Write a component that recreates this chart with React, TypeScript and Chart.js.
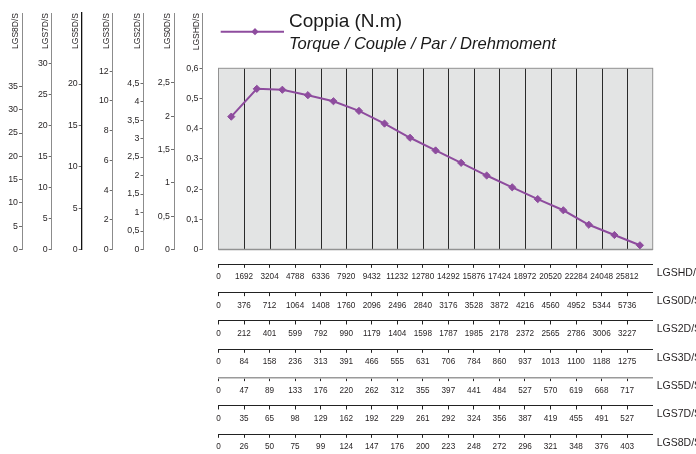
import React, { useEffect, useRef } from 'react';
import { Chart, registerables } from 'chart.js';

Chart.register(...registerables);

// ---------------- data ----------------
const torqueLGSHD = [0.44, 0.532, 0.529, 0.511, 0.491, 0.459, 0.417, 0.37, 0.328, 0.287, 0.245, 0.206, 0.167, 0.13, 0.082, 0.048, 0.014];
const torqueBoxMax = 0.6;

const speedLGSHD = ['0', '1692', '3204', '4788', '6336', '7920', '9432', '11232', '12780', '14292', '15876', '17424', '18972', '20520', '22284', '24048', '25812'];
const speedLGS0D = ['0', '376', '712', '1064', '1408', '1760', '2096', '2496', '2840', '3176', '3528', '3872', '4216', '4560', '4952', '5344', '5736'];
const speedLGS2D = ['0', '212', '401', '599', '792', '990', '1179', '1404', '1598', '1787', '1985', '2178', '2372', '2565', '2786', '3006', '3227'];
const speedLGS3D = ['0', '84', '158', '236', '313', '391', '466', '555', '631', '706', '784', '860', '937', '1013', '1100', '1188', '1275'];
const speedLGS5D = ['0', '47', '89', '133', '176', '220', '262', '312', '355', '397', '441', '484', '527', '570', '619', '668', '717'];
const speedLGS7D = ['0', '35', '65', '98', '129', '162', '192', '229', '261', '292', '324', '356', '387', '419', '455', '491', '527'];
const speedLGS8D = ['0', '26', '50', '75', '99', '124', '147', '176', '200', '223', '248', '272', '296', '321', '348', '376', '403'];
const bottomAxisNames = ['LGSHD/S', 'LGS0D/S', 'LGS2D/S', 'LGS3D/S', 'LGS5D/S', 'LGS7D/S', 'LGS8D/S'];
const bottomAxisLabels = [speedLGSHD, speedLGS0D, speedLGS2D, speedLGS3D, speedLGS5D, speedLGS7D, speedLGS8D];

const leftAxisNames = ['LGS8D/S', 'LGS7D/S', 'LGS5D/S', 'LGS3D/S', 'LGS2D/S', 'LGS0D/S', 'LGSHD/S'];
// value of each torque axis that corresponds to 0.6 N.m on LGSHD/S (top of the plot box)
const leftAxisBoxTop = [38.9, 29.2, 21.9, 12.2, 4.9, 2.72, 0.6];
const ticksLGS8D = [0, 5, 10, 15, 20, 25, 30, 35];
const ticksLGS7D = [0, 5, 10, 15, 20, 25, 30];
const ticksLGS5D = [0, 5, 10, 15, 20];
const ticksLGS3D = [0, 2, 4, 6, 8, 10, 12];
const ticksLGS2D = [0, 0.5, 1, 1.5, 2, 2.5, 3, 3.5, 4, 4.5];
const ticksLGS0D = [0, 0.5, 1, 1.5, 2, 2.5];
const ticksLGSHD = [0, 0.1, 0.2, 0.3, 0.4, 0.5, 0.6];
const leftAxisTicks = [ticksLGS8D, ticksLGS7D, ticksLGS5D, ticksLGS3D, ticksLGS2D, ticksLGS0D, ticksLGSHD];

const legendTitle = 'Coppia (N.m)';
const legendSubtitle = 'Torque / Couple / Par / Drehmoment';

// ---------------- layout / style ----------------
const W = 696;
const H = 454;
const PLOT_TOP_AXIS = 13; // top of left axis lines
const CHART_BOTTOM = 249.5;
const BOX_TOP = 68.3;
const HEADROOM = (CHART_BOTTOM - PLOT_TOP_AXIS) / (CHART_BOTTOM - BOX_TOP);
const leftAxisWidths = [22, 29.7, 30, 31, 30.8, 30.5, 28.5];
const leftSpacer = 16;
const bottomSpacer = 14.8;
const bottomHeights = [28.33, 28.33, 28.33, 28.33, 28.33, 28.33, 19.7];
const RIGHT_PAD = 43.3;

const PURPLE = '#8e4c9e';
const INK = '#231f20';
const NARROW = "'Liberation Sans Narrow', 'Liberation Sans', Arial, sans-serif";
const SANS = "'Liberation Sans', Arial, sans-serif";

const fmt = (v: number) => String(v).replace('.', ',');

function leftAxis(i: number) {
  const w = leftAxisWidths[i];
  const titleSize = 8.5;
  const lh = titleSize * 1.2;
  const ticks = leftAxisTicks[i];
  const isBlack = i === 2;
  return {
    type: 'linear',
    position: 'left',
    weight: 7 - i,
    min: 0,
    max: leftAxisBoxTop[i] * HEADROOM,
    bounds: 'data',
    afterBuildTicks: (s: any) => {
      s.ticks = ticks.map((v) => ({ value: v }));
    },
    afterFit: (s: any) => {
      s.width = w;
    },
    grid: { drawOnChartArea: false, drawTicks: true, tickLength: 3, color: '#6d6d6d', tickWidth: 1 },
    border: { display: true, color: isBlack ? '#111111' : '#8c8c8c', width: isBlack ? 1.3 : 1 },
    ticks: {
      padding: 1,
      autoSkip: false,
      font: { family: NARROW, size: 8.8 },
      color: INK,
      callback: (v: number) => fmt(v),
    },
    title: {
      display: true,
      text: leftAxisNames[i],
      align: 'end',
      color: INK,
      font: { family: NARROW, size: titleSize },
      padding: { top: w - 6 - lh / 2, bottom: 0 },
    },
  };
}

function bottomAxis(i: number) {
  const labels = bottomAxisLabels[i];
  const isGray = i === 4;
  return {
    type: 'linear',
    position: 'bottom',
    weight: i + 1,
    min: 0,
    max: torqueLGSHD.length,
    bounds: 'data',
    afterBuildTicks: (s: any) => {
      s.ticks = labels.map((_, k) => ({ value: k }));
    },
    afterFit: (s: any) => {
      s.height = bottomHeights[i];
    },
    grid: { drawOnChartArea: false, drawTicks: true, tickLength: 3.5, color: '#222222', tickWidth: 1 },
    border: { display: true, color: isGray ? '#9a9a9a' : '#222222', width: isGray ? 1.6 : 1 },
    ticks: {
      autoSkip: false,
      maxRotation: 0,
      minRotation: 0,
      padding: 4.5,
      font: { family: NARROW, size: 8.2 },
      color: INK,
      callback: (_v: number, k: number) => labels[k],
    },
  };
}

const plotBoxPlugin = {
  id: 'plotBox',
  beforeDatasetsDraw(chart: any) {
    const { ctx, scales } = chart;
    const x = scales.x;
    const y = scales.y;
    const n = torqueLGSHD.length;
    const l = x.getPixelForValue(0);
    const r = x.getPixelForValue(n);
    const t = y.getPixelForValue(torqueBoxMax);
    const b = y.getPixelForValue(0);
    ctx.save();
    ctx.fillStyle = '#e3e4e4';
    ctx.fillRect(l, t, r - l, b - t);
    ctx.strokeStyle = '#2a2a2a';
    ctx.lineWidth = 1;
    for (let k = 1; k < n; k++) {
      const px = Math.round(x.getPixelForValue(k)) + 0.5;
      ctx.beginPath();
      ctx.moveTo(px, t);
      ctx.lineTo(px, b);
      ctx.stroke();
    }
    ctx.strokeStyle = '#929292';
    ctx.strokeRect(l, t, r - l, b - t);
    ctx.lineWidth = 1.6;
    ctx.beginPath();
    ctx.moveTo(l, b);
    ctx.lineTo(r, b);
    ctx.stroke();
    ctx.restore();
  },
  afterDraw(chart: any) {
    const { ctx, scales } = chart;
    ctx.save();
    // bottom axis names at right end
    ctx.fillStyle = INK;
    ctx.font = `10.5px ${SANS}`;
    ctx.textAlign = 'left';
    ctx.textBaseline = 'middle';
    bottomAxisNames.forEach((name, i) => {
      const s = scales['b' + i];
      ctx.fillText(name, s.right + 4, s.top + 8.5);
    });
    // legend
    const ly = 31.7;
    ctx.strokeStyle = PURPLE;
    ctx.lineWidth = 2;
    ctx.beginPath();
    ctx.moveTo(220.7, ly);
    ctx.lineTo(284, ly);
    ctx.stroke();
    ctx.fillStyle = PURPLE;
    ctx.beginPath();
    const dx = 255, d = 3.6;
    ctx.moveTo(dx, ly - d);
    ctx.lineTo(dx + d, ly);
    ctx.lineTo(dx, ly + d);
    ctx.lineTo(dx - d, ly);
    ctx.closePath();
    ctx.fill();
    ctx.fillStyle = '#1a1a1a';
    ctx.textBaseline = 'alphabetic';
    ctx.font = `19px ${SANS}`;
    ctx.fillText(legendTitle, 289, 27);
    ctx.font = `italic 16.6px ${SANS}`;
    ctx.fillText(legendSubtitle, 289, 49.3);
    ctx.restore();
  },
};

export default function App() {
  const ref = useRef<HTMLCanvasElement | null>(null);

  useEffect(() => {
    document.body.style.margin = '0';
    const canvas = ref.current;
    if (!canvas) return;

    const scales: any = {
      x: {
        type: 'linear',
        position: 'bottom',
        weight: 0,
        min: 0,
        max: torqueLGSHD.length,
        bounds: 'data',
        ticks: { display: false },
        grid: { display: false },
        border: { display: false },
        afterFit: (s: any) => {
          s.height = bottomSpacer;
        },
      },
      y: {
        type: 'linear',
        position: 'left',
        weight: 0,
        min: 0,
        max: torqueBoxMax * HEADROOM,
        bounds: 'data',
        ticks: { display: false },
        grid: { display: false },
        border: { display: false },
        afterFit: (s: any) => {
          s.width = leftSpacer;
        },
      },
    };
    leftAxisNames.forEach((_, i) => {
      scales['l' + i] = leftAxis(i);
    });
    bottomAxisNames.forEach((_, i) => {
      scales['b' + i] = bottomAxis(i);
    });

    const chart = new Chart(canvas, {
      type: 'line',
      data: {
        datasets: [
          {
            label: legendTitle,
            data: torqueLGSHD.map((v, i) => ({ x: i + 0.5, y: v })),
            borderColor: PURPLE,
            backgroundColor: PURPLE,
            borderWidth: 2,
            pointStyle: 'rectRot',
            pointRadius: 3.6,
            pointBorderWidth: 1,
            pointBackgroundColor: PURPLE,
            pointBorderColor: PURPLE,
            tension: 0,
            xAxisID: 'x',
            yAxisID: 'y',
          },
        ],
      },
      options: {
        animation: false,
        responsive: false,
        devicePixelRatio: 1,
        layout: { padding: { top: PLOT_TOP_AXIS, left: 0, right: RIGHT_PAD, bottom: 0 } },
        plugins: { legend: { display: false }, tooltip: { enabled: false } },
        scales,
      } as any,
      plugins: [plotBoxPlugin],
    });
    return () => chart.destroy();
  }, []);

  return (
    <div style={{ position: 'absolute', left: 0, top: 0, width: W, height: H, background: '#fff' }}>
      <canvas ref={ref} width={W} height={H} style={{ display: 'block' }} />
    </div>
  );
}
